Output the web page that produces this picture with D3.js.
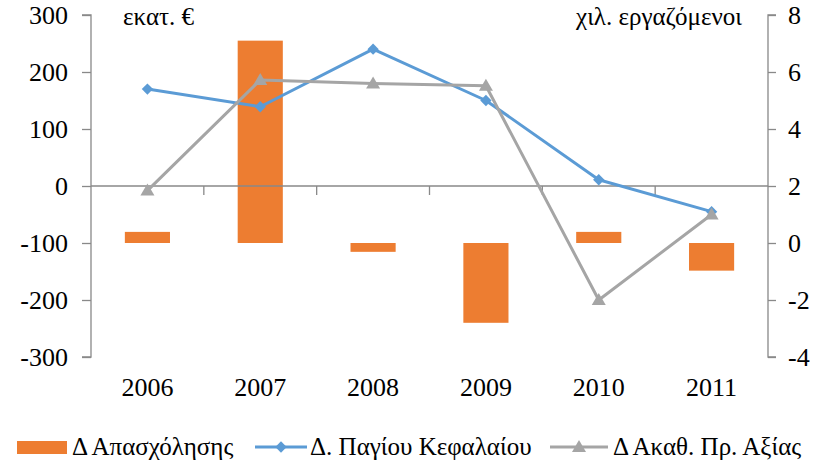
<!DOCTYPE html>
<html>
<head>
<meta charset="utf-8">
<script src="https://cdn.jsdelivr.net/npm/d3@7/dist/d3.min.js"></script>
<style>
  html, body { margin: 0; padding: 0; background: #fff; }
</style>
</head>
<body>
<svg id="chart" width="825" height="464"></svg>
<script>
// Years on the category axis
const years = ["2006", "2007", "2008", "2009", "2010", "2011"];
// Change in employment (thousand persons, right axis)
const employment = [0.39, 7.1, -0.31, -2.8, 0.39, -0.97];
// Change in fixed capital (million €, left axis)
const capital = [170, 139, 240, 150, 11, -45];
// Change in gross value added (million €, left axis)
const gva = [-8, 186, 180, 176, -200, -50];
// Axis ticks
const leftTicks = [-300, -200, -100, 0, 100, 200, 300];
const rightTicks = [-4, -2, 0, 2, 4, 6, 8];
// Series names shown in the legend
const seriesNames = ["Δ Απασχόλησης", "Δ. Παγίου Κεφαλαίου", "Δ Ακαθ. Πρ. Αξίας"];

const colors = { bar: "#ED7D31", capital: "#5B9BD5", gva: "#A5A5A5", axis: "#898989" };

const svg = d3.select("#chart");
const plot = { left: 91, right: 768, top: 15, bottom: 357 };

// Serif text label
function label(parent, x, y, str, size, anchor) {
  return parent.append("text")
    .attr("x", x)
    .attr("y", y)
    .attr("text-anchor", anchor || "start")
    .style("font-family", '"Liberation Serif"')
    .attr("font-size", size)
    .attr("fill", "#000")
    .text(str);
}
const fmt = d => String(d); // plain hyphen for negatives

const x = d3.scaleBand().domain(years).range([plot.left, plot.right]).paddingInner(0.6).paddingOuter(0.3);
const xBand = d3.scaleBand().domain(years).range([plot.left, plot.right]);
const yL = d3.scaleLinear().domain([-300, 300]).range([plot.bottom, plot.top]);
const yR = d3.scaleLinear().domain([-4, 8]).range([plot.bottom, plot.top]);

// Bars (right axis), drawn from zero
svg.append("g").selectAll("rect").data(years).join("rect")
  .attr("x", d => x(d))
  .attr("width", x.bandwidth())
  .attr("y", (d, i) => Math.min(yR(0), yR(employment[i])))
  .attr("height", (d, i) => Math.abs(yR(employment[i]) - yR(0)))
  .attr("fill", colors.bar);

// Left axis
const gL = svg.append("g").attr("transform", `translate(${plot.left},0)`)
  .call(d3.axisLeft(yL).tickValues(leftTicks).tickSize(9).tickFormat(""));
gL.selectAll("path, line").attr("stroke", colors.axis).attr("stroke-width", 1.3);
gL.select(".domain").attr("d", `M-9,${plot.top}H0V${plot.bottom}H-9`);
const gLl = svg.append("g");
leftTicks.forEach(t => label(gLl, 68, yL(t) + 9, fmt(t), 26, "end"));

// Right axis
const gR = svg.append("g").attr("transform", `translate(${plot.right},0)`)
  .call(d3.axisRight(yR).tickValues(rightTicks).tickSize(8).tickFormat(""));
gR.selectAll("path, line").attr("stroke", colors.axis).attr("stroke-width", 1.3);
gR.select(".domain").attr("d", `M8,${plot.top}H0V${plot.bottom}H8`);
const gRl = svg.append("g");
rightTicks.forEach(t => label(gRl, 788, yR(t) + 9, fmt(t), 26, "start"));

// Category axis along the left-axis zero line
const gX = svg.append("g").attr("transform", `translate(0,${yL(0)})`);
gX.append("line").attr("x1", plot.left).attr("x2", plot.right).attr("stroke", colors.axis).attr("stroke-width", 1.3);
gX.selectAll("line.tick").data(years.slice(1)).join("line").attr("class", "tick")
  .attr("x1", d => xBand(d)).attr("x2", d => xBand(d))
  .attr("y1", 0).attr("y2", 9).attr("stroke", colors.axis).attr("stroke-width", 1.3);

const cx = d => xBand(d) + xBand.bandwidth() / 2;

// Year labels below the plot
const gY = svg.append("g");
years.forEach(yr => label(gY, cx(yr), 396, yr, 26, "middle"));

// Unit labels
label(svg, 123, 25, "εκατ. €", 25, "start");
label(svg, 742, 25, "χιλ. εργαζόμενοι", 25, "end");

// Fixed capital line with diamond markers
svg.append("path").datum(capital)
  .attr("fill", "none").attr("stroke", colors.capital).attr("stroke-width", 3).attr("stroke-linejoin", "round")
  .attr("d", d3.line().x((d, i) => cx(years[i])).y(d => yL(d)));
svg.append("g").selectAll("path").data(capital).join("path")
  .attr("transform", (d, i) => `translate(${cx(years[i])},${yL(d)}) rotate(45)`)
  .attr("d", "M-4,-4H4V4H-4Z")
  .attr("fill", colors.capital);

// Gross value added line with triangle markers
svg.append("path").datum(gva)
  .attr("fill", "none").attr("stroke", colors.gva).attr("stroke-width", 3).attr("stroke-linejoin", "round")
  .attr("d", d3.line().x((d, i) => cx(years[i])).y(d => yL(d)));
svg.append("g").selectAll("path").data(gva).join("path")
  .attr("transform", (d, i) => `translate(${cx(years[i])},${yL(d)})`)
  .attr("d", "M0,-7L7,5H-7Z")
  .attr("fill", colors.gva);

// Legend
const legend = svg.append("g");
const legY = 447;
legend.append("rect").attr("x", 17).attr("y", legY - 6).attr("width", 50).attr("height", 13).attr("fill", colors.bar);
label(legend, 72, legY + 8, seriesNames[0], 25, "start");

legend.append("line").attr("x1", 255).attr("x2", 307).attr("y1", legY).attr("y2", legY)
  .attr("stroke", colors.capital).attr("stroke-width", 3);
legend.append("path").attr("transform", `translate(281,${legY}) rotate(45)`).attr("d", "M-4,-4H4V4H-4Z").attr("fill", colors.capital);
label(legend, 310, legY + 8, seriesNames[1], 25, "start");

legend.append("line").attr("x1", 550).attr("x2", 608).attr("y1", legY).attr("y2", legY)
  .attr("stroke", colors.gva).attr("stroke-width", 3);
legend.append("path").attr("transform", `translate(579,${legY})`).attr("d", "M0,-7L7,5H-7Z").attr("fill", colors.gva);
label(legend, 613, legY + 8, seriesNames[2], 25, "start");
</script>
</body>
</html>
